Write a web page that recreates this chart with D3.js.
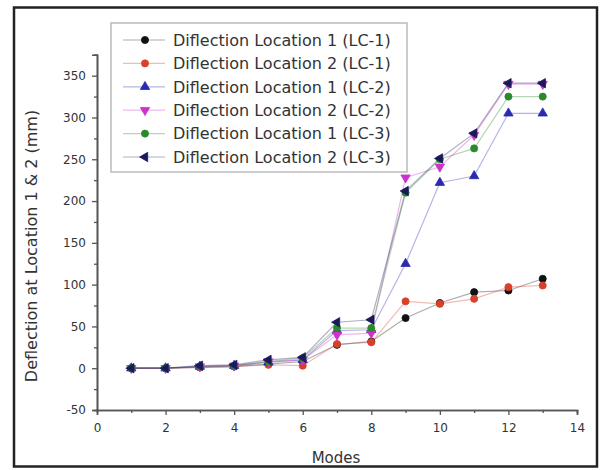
<!DOCTYPE html>
<html>
<head>
<meta charset="utf-8">
<script src="https://cdn.jsdelivr.net/npm/d3@7"></script>
<style>
  html, body { margin: 0; padding: 0; background: #fff; }
  svg { display: block; }
  text { font-family: "DejaVu Sans", "Liberation Sans", Arial, sans-serif; fill: #333; }
</style>
</head>
<body>
<svg id="chart" width="601" height="470"></svg>
<script>
// ---- data ----
const modes = [1, 2, 3, 4, 5, 6, 7, 8, 9, 10, 11, 12, 13];
const loc1LC1 = [0, 0, 1, 2, 5, 8, 28, 32, 60, 78, 91, 93, 107];
const loc2LC1 = [0, 0, 1, 2, 4, 3, 29, 31, 80, 77, 83, 97, 99];
const loc1LC2 = [0, 0, 2, 3, 7, 10, 45, 46, 125, 222, 230, 305, 305];
const loc2LC2 = [0, 0, 2, 3, 8, 10, 40, 42, 228, 241, 279, 340, 340];
const loc1LC3 = [0, 0, 2, 3, 8, 12, 48, 48, 210, 250, 263, 325, 325];
const loc2LC3 = [0, 0, 3, 4, 10, 13, 55, 58, 212, 251, 281, 341, 341];
const seriesNames = [
  "Diflection Location 1 (LC-1)",
  "Diflection Location 2 (LC-1)",
  "Diflection Location 1 (LC-2)",
  "Diflection Location 2 (LC-2)",
  "Diflection Location 1 (LC-3)",
  "Diflection Location 2 (LC-3)"
];
const seriesColors = ["#111111", "#d8402a", "#2a2ab0", "#cc33cc", "#2a8a2a", "#1a1a5a"];
const seriesSymbols = ["circle", "circle", "triangleUp", "triangleDown", "circle", "triangleLeft"];
const xTicks = [0, 2, 4, 6, 8, 10, 12, 14];
const yTicks = [-50, 0, 50, 100, 150, 200, 250, 300, 350];
const xTitle = "Modes";
const yTitle = "Deflection at Location 1 & 2 (mm)";

const seriesValues = [loc1LC1, loc2LC1, loc1LC2, loc2LC2, loc1LC3, loc2LC3];
const series = seriesNames.map((name, i) => ({
  name, color: seriesColors[i], symbol: seriesSymbols[i],
  points: modes.map((m, j) => ({ x: m, y: seriesValues[i][j] }))
}));

// ---- layout ----
const svg = d3.select("#chart");
const x = d3.scaleLinear().domain([0, 14]).range([97, 577]);
const y = d3.scaleLinear().domain([-50, 375]).range([410, 54.8]);

// outer frame
svg.append("rect").attr("x", 14).attr("y", 7.5).attr("width", 583).attr("height", 459)
  .attr("fill", "none").attr("stroke", "#222").attr("stroke-width", 2.5);

const axisColor = "#555";
const fmt = d => String(d).replace("\u2212", "-");

// x axis
const gx = svg.append("g").attr("transform", `translate(0,${y(-50)})`);
gx.call(d3.axisBottom(x).tickValues(d3.range(1, 14, 2)).tickSize(3).tickFormat(""));
gx.call(g => g.append("g").call(d3.axisBottom(x).tickValues(xTicks).tickSize(5).tickPadding(8).tickFormat(fmt)));
gx.selectAll("path.domain").attr("stroke", axisColor).attr("stroke-width", 1.6);
gx.selectAll(".tick line").attr("stroke", axisColor).attr("stroke-width", 1.3);
gx.selectAll(".tick text").attr("font-size", 12).attr("fill", "#555")
  .style("font-family", "'DejaVu Sans', Arial, sans-serif");

// y axis
const gy = svg.append("g").attr("transform", `translate(${x(0)},0)`);
gy.call(d3.axisLeft(y).tickValues(d3.range(-25, 376, 50)).tickSize(3).tickFormat(""));
gy.call(g => g.append("g").call(d3.axisLeft(y).tickValues(yTicks).tickSize(5).tickPadding(6).tickFormat(fmt)));
gy.selectAll("path.domain").attr("stroke", axisColor).attr("stroke-width", 1.6);
gy.selectAll(".tick line").attr("stroke", axisColor).attr("stroke-width", 1.3);
gy.selectAll(".tick text").attr("font-size", 12).attr("fill", "#555")
  .style("font-family", "'DejaVu Sans', Arial, sans-serif");

// axis titles
svg.append("text").attr("x", 336).attr("y", 463).attr("text-anchor", "middle")
  .attr("font-size", 15).attr("fill", "#444").text(xTitle);
svg.append("text").attr("transform", `translate(37,${246}) rotate(-90)`)
  .attr("text-anchor", "middle").attr("font-size", 16).attr("fill", "#444").text(yTitle);

// symbols
const symType = {
  circle: d3.symbolCircle,
  triangleUp: d3.symbolTriangle,
  triangleDown: d3.symbolTriangle,
  triangleLeft: d3.symbolTriangle
};
const symRot = { circle: 0, triangleUp: 0, triangleDown: 180, triangleLeft: -90 };
function drawSymbol(g, s, cx, cy) {
  g.append("path")
    .attr("d", d3.symbol().type(symType[s.symbol]).size(s.symbol === "circle" ? 40 : 38)())
    .attr("transform", `translate(${cx},${cy}) rotate(${symRot[s.symbol]})`)
    .attr("fill", s.color).attr("stroke", s.color).attr("stroke-width", 0.8);
}

// lines and markers
const line = d3.line().x(d => x(d.x)).y(d => y(d.y));
const plot = svg.append("g");
series.forEach(s => {
  plot.append("path").datum(s.points).attr("d", line)
    .attr("fill", "none").attr("stroke", s.color).attr("stroke-opacity", 0.35).attr("stroke-width", 1.2);
});
series.forEach(s => {
  const g = plot.append("g");
  s.points.forEach(p => drawSymbol(g, s, x(p.x), y(p.y)));
});

// legend
const lg = svg.append("g");
lg.append("rect").attr("x", 111).attr("y", 23).attr("width", 296).attr("height", 149)
  .attr("fill", "#fff").attr("stroke", "#bbb").attr("stroke-width", 1.5);
series.forEach((s, i) => {
  const cy = 40 + i * 23.4;
  lg.append("line").attr("x1", 123).attr("x2", 165).attr("y1", cy).attr("y2", cy)
    .attr("stroke", s.color).attr("stroke-opacity", 0.35).attr("stroke-width", 1.2);
  drawSymbol(lg, s, 145, cy);
  lg.append("text").attr("x", 173).attr("y", cy).attr("dy", "0.36em")
    .attr("font-size", 16).attr("fill", "#444").text(s.name);
});
</script>
</body>
</html>
